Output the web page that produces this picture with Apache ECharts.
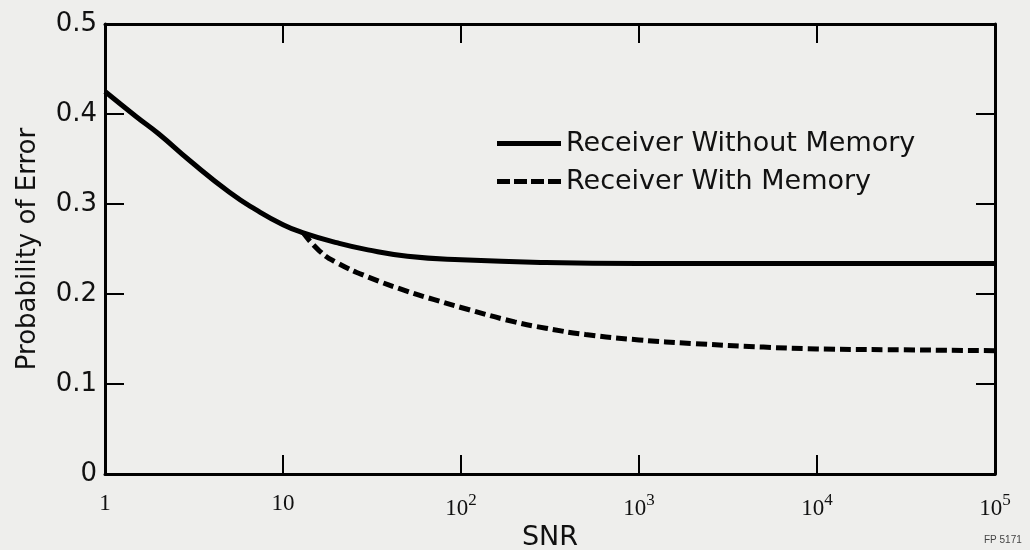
<!DOCTYPE html>
<html>
<head>
<meta charset="utf-8">
<script src="https://cdn.jsdelivr.net/npm/echarts@6/dist/echarts.min.js"></script>
<style>
html,body{margin:0;padding:0;background:#eeeeec;}
#c{width:1030px;height:550px;}
</style>
</head>
<body>
<div id="c"></div>
<script>
// Data
const snrWithout = [1, 1.5, 2, 3, 5, 7, 10, 13, 20, 30, 50, 100, 300, 1000, 10000, 100000];
const errWithout = [0.425, 0.397, 0.378, 0.348, 0.313, 0.294, 0.277, 0.268, 0.257, 0.249, 0.242, 0.238, 0.235, 0.234, 0.234, 0.234];
const snrWith = [13, 16, 20, 30, 50, 70, 100, 200, 300, 500, 1000, 2000, 5000, 10000, 30000, 100000];
const errWith = [0.268, 0.248, 0.235, 0.219, 0.203, 0.194, 0.185, 0.169, 0.162, 0.155, 0.149, 0.145, 0.141, 0.139, 0.138, 0.137];
const xTickLabels = ['1', '10', '10{s|2}', '10{s|3}', '10{s|4}', '10{s|5}'];
const yTickLabels = ['0', '0.1', '0.2', '0.3', '0.4', '0.5'];
const seriesNames = ['Receiver Without Memory', 'Receiver With Memory'];

const chart = echarts.init(document.getElementById('c'), null, {renderer: 'canvas'});
const axisLine = {show: true, onZero: false, lineStyle: {color: '#000', width: 3}};
const axisTick = {show: true, inside: true, length: 19, lineStyle: {color: '#000', width: 2}};
const pairs = (xs, ys) => xs.map((x, i) => [x, ys[i]]);
const solidIcon = 'path://M0,0L64,0L64,5L0,5Z';
const dashIcon = 'path://M0,0L13,0L13,5L0,5ZM17,0L30,0L30,5L17,5ZM34,0L47,0L47,5L34,5ZM51,0L64,0L64,5L51,5Z';

chart.setOption({
  backgroundColor: '#eeeeec',
  animation: false,
  grid: {left: 105, right: 35, top: 24, bottom: 76, containLabel: false, outerBoundsMode: 'none'},
  legend: {
    orient: 'vertical',
    left: 492,
    top: 125,
    itemWidth: 64,
    itemHeight: 5,
    itemGap: 11,
    itemStyle: {color: '#000'},
    textStyle: {fontFamily: 'DejaVu Sans', fontSize: 27, color: '#111', padding: [0, 0, 0, 0]},
    data: [{name: seriesNames[0], icon: solidIcon}, {name: seriesNames[1], icon: dashIcon}]
  },
  xAxis: [{
    type: 'log', logBase: 10, min: 1, max: 100000, position: 'bottom',
    axisLine: axisLine, axisTick: axisTick, splitLine: {show: false}, minorTick: {show: false},
    axisLabel: {
      margin: 18,
      fontFamily: 'Liberation Serif', fontSize: 23, color: '#111',
      formatter: v => xTickLabels[Math.round(Math.log10(v))],
      rich: {s: {fontFamily: 'Liberation Serif', fontSize: 17, verticalAlign: 'top', padding: [0, 0, 16, 0], color: '#111'}}
    },
    name: 'SNR', nameLocation: 'middle', nameGap: 42,
    nameTextStyle: {fontFamily: 'DejaVu Sans', fontSize: 27, color: '#111'}
  }, {
    type: 'log', logBase: 10, min: 1, max: 100000, position: 'top',
    axisLine: axisLine, axisTick: axisTick, axisLabel: {show: false}, splitLine: {show: false}
  }],
  yAxis: [{
    type: 'value', min: 0, max: 0.5, interval: 0.1, position: 'left',
    axisLine: axisLine, axisTick: axisTick, splitLine: {show: false},
    axisLabel: {
      margin: 8, fontFamily: 'DejaVu Sans', fontSize: 26, color: '#111',
      formatter: v => yTickLabels[Math.round(v * 10)]
    },
    name: 'Probability of Error', nameLocation: 'middle', nameGap: 64, nameRotate: 90,
    nameTextStyle: {fontFamily: 'DejaVu Sans', fontSize: 26, color: '#111'}
  }, {
    type: 'value', min: 0, max: 0.5, interval: 0.1, position: 'right',
    axisLine: axisLine, axisTick: axisTick, axisLabel: {show: false}, splitLine: {show: false}
  }],
  series: [{
    name: seriesNames[0], type: 'line', smooth: 0.5, symbol: 'none',
    data: pairs(snrWithout, errWithout),
    lineStyle: {color: '#000', width: 5},
    itemStyle: {color: '#000'}
  }, {
    name: seriesNames[1], type: 'line', smooth: 0.5, symbol: 'none',
    data: pairs(snrWith, errWith),
    lineStyle: {color: '#000', width: 5, type: [11, 5]},
    itemStyle: {color: '#000'}
  }],
  graphic: [{
    type: 'text', left: 984, top: 535,
    style: {text: 'FP 5171', fontFamily: 'Liberation Sans', fontSize: 10, fill: '#444'}
  }]
});
</script>
</body>
</html>
